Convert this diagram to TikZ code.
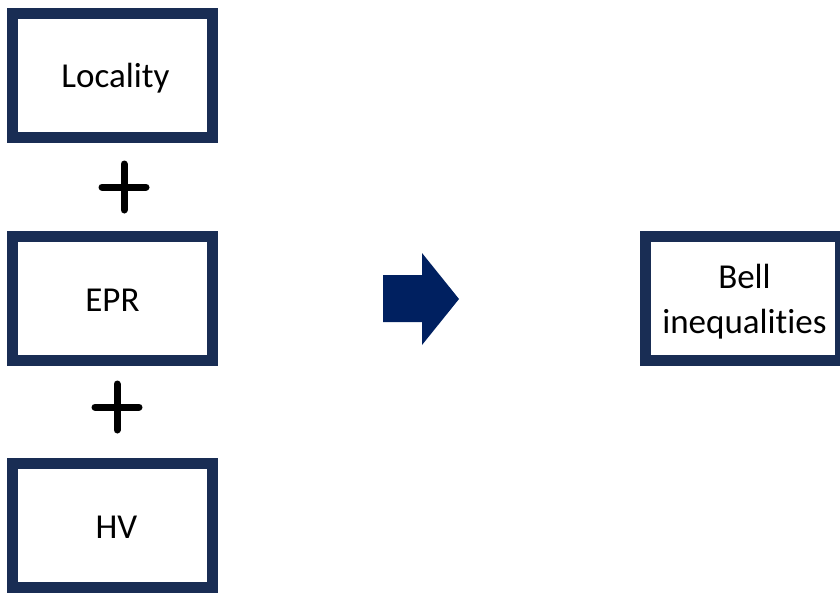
\documentclass[tikz,border=0pt]{standalone}
\usepackage{fontspec}
\setmainfont{Carlito}[Ligatures=NoCommon]
\usepackage{tikz}
\usetikzlibrary{calc}
\definecolor{boxnavy}{RGB}{25,45,84}
\definecolor{arrownavy}{RGB}{0,32,96}
\tikzset{
	ideabox/.style={draw=boxnavy, line width=11pt, fill=white, minimum width=200pt, minimum height=124pt, inner sep=0pt},
	ideatext/.style={font=\fontsize{35}{45}\selectfont, align=center, inner sep=0pt},
	plussign/.style={line width=7pt, line cap=round}
}

\begin{document}
\begin{tikzpicture}[x=1pt, y=-1pt]
			%%%%% START %%%%%
			\useasboundingbox (0, 0) rectangle (840, 592);
			\clip (0, 0) rectangle (840, 592);
			
			\node[ideabox] (locality) at (112.5, 75) {};
			\node[ideatext] (localitytext) at ($(locality.center)+(3, 3)$) {Locality};
			
			\node[ideabox] (epr) at (112.5, 298.5) {};
			\node[ideatext] (eprtext) at ($(epr.center)+(0, 2)$) {EPR};
			
			\node[ideabox] (hv) at (112.5, 525) {};
			\node[ideatext] (hvtext) at ($(hv.center)+(4, 2)$) {HV};
			
			\node[ideabox, minimum width=195pt] (bell) at (742.5, 298.5) {};
			\node[ideatext] (belltext) at ($(bell.center)+(2, 3)$) {Bell\\inequalities};
			
			\coordinate (plusA) at (124, 187);
			\draw[plussign] ($(plusA)+(-22, 0)$) -- ($(plusA)+(22, 0)$);
			\draw[plussign] ($(plusA)+(0, -23)$) -- ($(plusA)+(0, 23)$);
			
			\coordinate (plusB) at (117, 407);
			\draw[plussign] ($(plusB)+(-22, 0)$) -- ($(plusB)+(22, 0)$);
			\draw[plussign] ($(plusB)+(0, -23)$) -- ($(plusB)+(0, 23)$);
			
			\fill[arrownavy] (383, 275) -- (422, 275) -- (422, 253) -- (459, 299) -- (422, 345) -- (422, 322) -- (383, 322) -- cycle;
			%%%%% END %%%%%
		\end{tikzpicture}
\end{document}
